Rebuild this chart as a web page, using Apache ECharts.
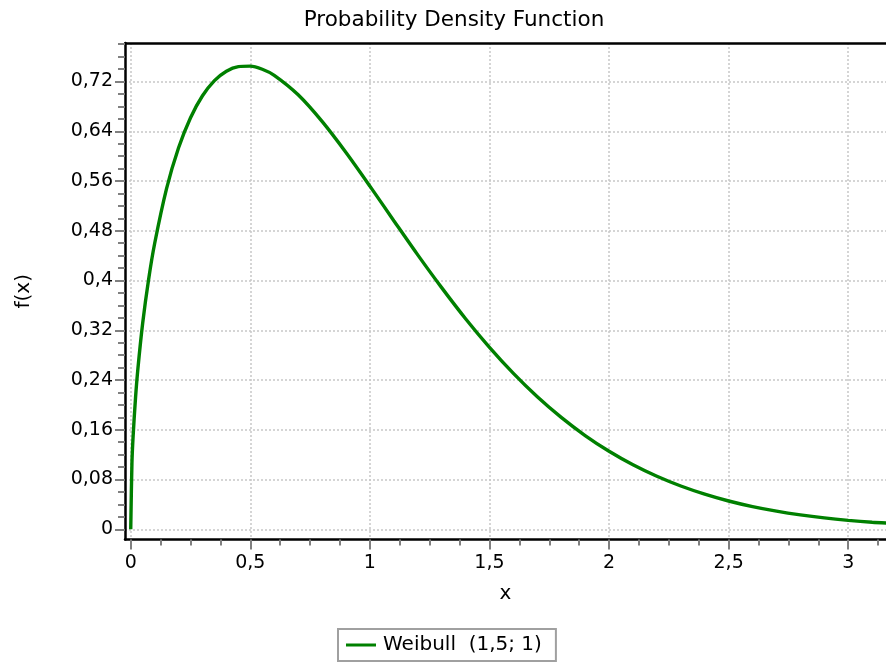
<!DOCTYPE html>
<html><head><meta charset="utf-8">
<script src="https://cdn.jsdelivr.net/npm/echarts@6/dist/echarts.min.js"></script>
<style>html,body{margin:0;padding:0;background:#fff}#c{width:886px;height:668px}</style>
</head><body><div id="c"></div>
<script>
const chartTitle = 'Probability Density Function';
const seriesName = 'Weibull  (1,5; 1)';
const xName = 'x';
const yName = 'f(x)';
const xValues = [0, 0.005, 0.01, 0.02, 0.03, 0.05, 0.075, 0.1, 0.15, 0.2, 0.25, 0.3, 0.35, 0.4, 0.45, 0.5, 0.55, 0.6, 0.7, 0.8, 0.9, 1.0, 1.1, 1.2, 1.3, 1.4, 1.5, 1.6, 1.7, 1.8, 1.9, 2.0, 2.1, 2.2, 2.3, 2.4, 2.5, 2.6, 2.7, 2.8, 2.9, 3.0, 3.1, 3.16];
const yValues = [0, 0.106, 0.150, 0.2115, 0.2585, 0.3317, 0.4025, 0.4596, 0.5482, 0.6135, 0.6619, 0.6971, 0.7215, 0.7367, 0.7440, 0.7448, 0.7398, 0.7300, 0.6987, 0.6559, 0.6059, 0.5518, 0.4963, 0.4413, 0.3886, 0.3386, 0.2926, 0.2507, 0.2131, 0.1799, 0.1507, 0.1254, 0.1037, 0.0852, 0.0696, 0.0565, 0.0455, 0.0365, 0.0292, 0.0232, 0.0183, 0.0144, 0.0113, 0.0100];
const xMajorTicks = [0, 0.5, 1, 1.5, 2, 2.5, 3];
const xMinorTicks = [0.125, 0.25, 0.375, 0.625, 0.75, 0.875, 1.125, 1.25, 1.375, 1.625, 1.75, 1.875, 2.125, 2.25, 2.375, 2.625, 2.75, 2.875, 3.125];
const yMajorTicks = [0, 0.08, 0.16, 0.24, 0.32, 0.4, 0.48, 0.56, 0.64, 0.72];
const yMinorTicks = [0.02, 0.04, 0.06, 0.1, 0.12, 0.14, 0.18, 0.2, 0.22, 0.26, 0.28, 0.3, 0.34, 0.36, 0.38, 0.42, 0.44, 0.46, 0.5, 0.52, 0.54, 0.58, 0.6, 0.62, 0.66, 0.68, 0.7, 0.74, 0.76, 0.78];
const xRange = [-0.024, 3.158];
const yRange = [-0.0164, 0.782];

const FONT = 'DejaVu Sans, Verdana, sans-serif';
const fmt = v => String(+(+v).toFixed(3)).replace('.', ',');
const isIn = (arr, v) => arr.some(t => Math.abs(t - v) < 1e-6);

const chart = echarts.init(document.getElementById('c'), null, {renderer: 'canvas'});
const gridLine = {show: true, lineStyle: {color: '#c8c8c8', width: 1.5, type: [2, 2]}};
const option = {
  backgroundColor: '#fff',
  animation: false,
  title: {text: chartTitle, left: 449, textAlign: 'center', top: 4,
    textStyle: {fontFamily: FONT, fontSize: 21.5, fontWeight: 'normal', color: '#000'}},
  legend: {
    left: 338, top: 629,
    padding: [6, 14, 6, 8],
    borderColor: '#a0a0a0', borderWidth: 2,
    icon: 'rect', itemWidth: 30, itemHeight: 3, itemGap: 5,
    textStyle: {fontFamily: FONT, fontSize: 20, color: '#000', padding: [0, 0, 0, 2]},
    data: [seriesName]
  },
  grid: {left: 125, right: 0, top: 43, bottom: 128.5, containLabel: false},
  xAxis: [
    {type: 'value', min: xRange[0], max: xRange[1], interval: 0.5, position: 'bottom',
      name: xName, nameLocation: 'middle', nameGap: 44,
      nameTextStyle: {fontFamily: FONT, fontSize: 20, color: '#000'},
      axisLine: {show: true, onZero: false, lineStyle: {color: '#000', width: 2.5}},
      axisTick: {show: true, length: 10, customValues: xMajorTicks, lineStyle: {color: '#808080', width: 2}},
      axisLabel: {show: true, margin: 14, customValues: xMajorTicks, fontFamily: FONT, fontSize: 19, color: '#000',
        formatter: v => isIn(xMajorTicks, v) ? fmt(v) : ''},
      splitLine: gridLine},
    {type: 'value', min: xRange[0], max: xRange[1], position: 'bottom',
      axisLine: {show: false, onZero: false},
      axisTick: {show: true, length: 6, customValues: xMinorTicks, lineStyle: {color: '#808080', width: 2}},
      axisLabel: {show: false}, splitLine: {show: false}},
    {type: 'value', min: xRange[0], max: xRange[1], position: 'top',
      axisLine: {show: true, onZero: false, lineStyle: {color: '#000', width: 2.5}},
      axisTick: {show: false}, axisLabel: {show: false}, splitLine: {show: false}}
  ],
  yAxis: [
    {type: 'value', min: yRange[0], max: yRange[1], interval: 0.08, position: 'left',
      name: yName, nameLocation: 'middle', nameGap: 91,
      nameTextStyle: {fontFamily: FONT, fontSize: 20, color: '#000'},
      axisLine: {show: true, onZero: false, lineStyle: {color: '#000', width: 2.5}},
      axisTick: {show: true, length: 10, customValues: yMajorTicks, lineStyle: {color: '#808080', width: 2}},
      axisLabel: {show: true, margin: 12, customValues: yMajorTicks, fontFamily: FONT, fontSize: 19, color: '#000',
        formatter: v => isIn(yMajorTicks, v) ? fmt(v) : ''},
      splitLine: gridLine},
    {type: 'value', min: yRange[0], max: yRange[1], position: 'left',
      axisLine: {show: false, onZero: false},
      axisTick: {show: true, length: 7, customValues: yMinorTicks, lineStyle: {color: '#808080', width: 2}},
      axisLabel: {show: false}, splitLine: {show: false}}
  ],
  series: [{
    name: seriesName, type: 'line', xAxisIndex: 0, yAxisIndex: 0,
    smooth: 0.3, symbol: 'none', clip: true,
    lineStyle: {color: '#008000', width: 3.4},
    itemStyle: {color: '#008000'},
    data: xValues.map((x, i) => [x, yValues[i]])
  }]
};
chart.setOption(option);
</script></body></html>
